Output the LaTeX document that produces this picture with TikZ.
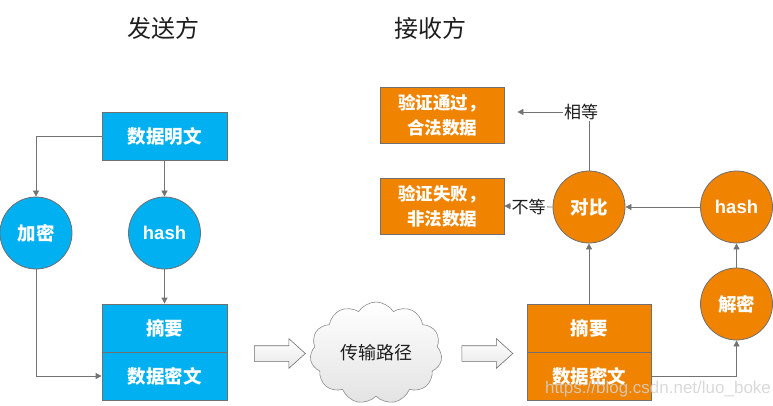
\documentclass[tikz,border=0pt]{standalone}
\usepackage{fontspec}
\setmainfont{Liberation Sans}
\newfontfamily\cjk{Noto Sans CJK SC}
\usetikzlibrary{shapes.symbols,shapes.arrows,arrows.meta}
\definecolor{myblue}{RGB}{0,176,240}
\definecolor{myorange}{RGB}{240,131,0}
\definecolor{bordergray}{RGB}{112,112,112}
\definecolor{linegray}{RGB}{115,115,115}
\definecolor{txtgray}{RGB}{30,30,30}
\begin{document}
\begin{tikzpicture}[x=1pt,y=-1pt,
  boxbase/.style={draw=bordergray, line width=0.8pt, minimum width=125pt, minimum height=48pt, inner sep=0pt, text=white, font=\cjk\bfseries\fontsize{18.5}{20}\selectfont},
  bbox/.style={boxbase, fill=myblue},
  obox/.style={boxbase, fill=myorange},
  circbase/.style={circle, draw=bordergray, line width=0.8pt, minimum size=72pt, inner sep=0pt, text=white, font=\cjk\bfseries\fontsize{18.5}{20}\selectfont},
  bcirc/.style={circbase, fill=myblue},
  ocirc/.style={circbase, fill=myorange},
  hashtxt/.style={font=\bfseries\fontsize{18.5}{20}\selectfont},
  conn/.style={draw=linegray, line width=0.8pt, -{Triangle[length=6pt,width=6pt]}},
  lbl/.style={fill=white, inner sep=1pt, text=txtgray, font=\cjk\fontsize{17}{19}\selectfont},
  barrow/.style={single arrow, draw=bordergray, line width=0.6pt, top color=white, bottom color=gray!18, minimum height=51pt, inner sep=7.5pt, single arrow head extend=7pt, single arrow tip angle=84},
  title/.style={text=txtgray, font=\cjk\fontsize{24}{26}\selectfont},
  twoline/.style={obox, minimum width=124pt, minimum height=56pt, align=center, font=\cjk\bfseries\fontsize{17.5}{25}\selectfont}
]
\useasboundingbox (0,0) rectangle (773,406);

% titles
\node[title] (t1) at (163,28) {发送方};
\node[title] (t2) at (430,28) {接收方};

% sender
\node[bbox] (mw) at (164.5,136) {数据明文};
\node[bcirc] (jm) at (36,233) {加密};
\node[bcirc, hashtxt] (h1) at (164.5,233) {hash};
\node[bbox] (zy1) at (164.5,328) {摘要};
\node[bbox] (mi1) at (164.5,376) {数据密文};

\draw[conn] (mw.west) -| (jm.north);
\draw[conn] (mw.south) -- (h1.north);
\draw[conn] (h1.south) -- (zy1.north);
\draw[conn] (jm.south) |- (mi1.west);

% transfer
\node[barrow] (a1) at (275.5,353.5) {};
\node[cloud, cloud puffs=11, cloud puff arc=115, aspect=1.3, minimum width=132pt, minimum height=102pt, draw=bordergray!80, line width=0.6pt, top color=white, bottom color=gray!22, text=txtgray, font=\cjk\fontsize{18}{20}\selectfont] (cl) at (376,353) {传输路径};
\node[barrow] (a2) at (483,353.5) {};

% receiver
\node[obox, minimum width=124pt] (zy2) at (589,328) {摘要};
\node[obox, minimum width=124pt] (mi2) at (589,376) {数据密文};
\node[ocirc] (jm2) at (736.5,304) {解密};
\node[ocirc, hashtxt] (h2) at (736.5,207) {hash};
\node[ocirc] (db) at (589,207) {对比};
\node[twoline] (ok) at (442,115) {验证通过，\\合法数据};
\node[twoline] (bad) at (442,206) {验证失败，\\非法数据};

\draw[conn] (mi2.east) -| (jm2.south);
\draw[conn] (jm2.north) -- (h2.south);
\draw[conn] (h2.west) -- (db.east);
\draw[conn] (zy2.north) -- (db.south);
\draw[conn, shorten >=13pt] (db.north) |- ([yshift=3pt]ok.east) node[lbl, pos=0.5, xshift=-8pt] {相等};
\draw[conn] (db.west) -- (bad.east) node[lbl, midway] {不等};

% watermark
\node[text=gray!35, opacity=0.85, font=\fontsize{17}{19}\selectfont] (wm) at (658,389) {https://blog.csdn.net/luo\_boke};
\end{tikzpicture}
\end{document}
